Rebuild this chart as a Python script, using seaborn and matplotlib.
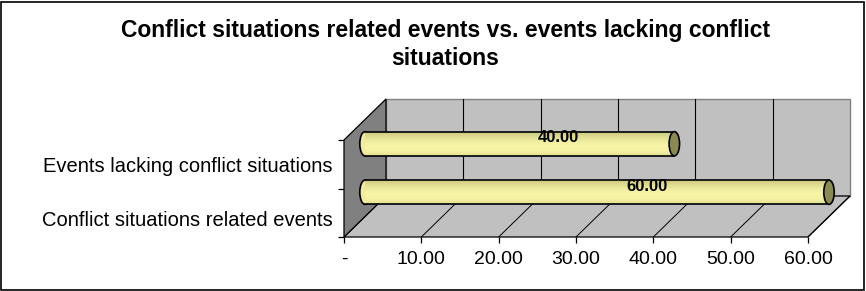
import numpy as np
import pandas as pd
import matplotlib
matplotlib.use("Agg")
import matplotlib.pyplot as plt
import seaborn as sns
from matplotlib.patches import Polygon, Rectangle, Ellipse
from matplotlib.transforms import ScaledTranslation
from matplotlib.colors import LinearSegmentedColormap

# 数据
categories = ["Events lacking conflict situations", "Conflict situations related events"]
values = [40.0, 60.0]
x_ticks = [0, 10, 20, 30, 40, 50, 60]
x_labels = ["-", "10.00", "20.00", "30.00", "40.00", "50.00", "60.00"]
title = "Conflict situations related events vs. events lacking conflict\nsituations"

sns.set_style("white")
plt.rcParams["font.family"] = ["Liberation Sans", "DejaVu Sans"]
plt.rcParams["text.color"] = "black"
plt.rcParams["xtick.color"] = "black"
plt.rcParams["ytick.color"] = "black"
plt.rcParams["axes.labelcolor"] = "black"

df = pd.DataFrame({"cat": categories, "val": values})

fig = plt.figure(figsize=(8.66, 2.91), dpi=100)
ax = fig.add_axes([344 / 866, 54 / 291, 464 / 866, 97 / 291])
ax.patch.set_visible(False)

sns.barplot(data=df, x="val", y="cat", orient="h", ax=ax, color="#EEEC9E",
            width=0.5, edgecolor="none", zorder=3)
ax.set_xlim(0, 60)
ax.set_ylim(1.5, -0.5)
bars = list(ax.patches)

# 3D 外框：深度偏移
dxf, dyf = 42 / 464, 41 / 97
kw = dict(transform=ax.transAxes, clip_on=False)
ax.add_patch(Rectangle((dxf, dyf), 1, 1, facecolor="#C0C0C0", edgecolor="#808080", lw=1, zorder=0.5, **kw))
ax.add_patch(Polygon([(0, 0), (1, 0), (1 + dxf, dyf), (dxf, dyf)], closed=True,
                     facecolor="#C0C0C0", edgecolor="black", lw=0.9, zorder=0.6, **kw))
ax.add_patch(Polygon([(0, 0), (0, 1), (dxf, 1 + dyf), (dxf, dyf)], closed=True,
                     facecolor="#808080", edgecolor="black", lw=0.9, zorder=0.7, **kw))
for v in x_ticks[1:]:
    f = v / 60
    ax.plot([f, f + dxf], [0, dyf], color="black", lw=0.7, zorder=0.8, **kw)
    if v < 60:
        ax.plot([f + dxf, f + dxf], [dyf, 1 + dyf], color="black", lw=0.8, zorder=0.8, **kw)

# 圆柱
trans_mid = ax.transData + ScaledTranslation(21 / 100, 20.5 / 100, fig.dpi_scale_trans)
trans_lab = ax.transData + ScaledTranslation(21 / 100, 26.5 / 100, fig.dpi_scale_trans)
cmap = LinearSegmentedColormap.from_list("cyl", ["#C8C67E", "#DCDA8E", "#EEEC9E", "#F8F6A6", "#F4F2A2", "#E2E096"])
grad = np.linspace(0, 1, 64).reshape(-1, 1)
for p in bars:
    p.set_transform(trans_mid)
    x0, y0, w, h = p.get_x(), p.get_y(), p.get_width(), p.get_height()
    cap_w = 1.35
    ax.add_patch(Ellipse((x0, y0 + h / 2), cap_w, h, transform=trans_mid,
                         facecolor="#EEEC9E", edgecolor="black", lw=1.2, zorder=2.5, clip_on=False))
    im = ax.imshow(grad, extent=(x0, x0 + w, y0 + h, y0), aspect="auto", cmap=cmap,
                   transform=trans_mid, zorder=3.2)
    im.set_clip_path(p)
    ax.plot([x0, x0 + w], [y0, y0], color="black", lw=1.2, transform=trans_mid, zorder=3.5, clip_on=False)
    ax.plot([x0, x0 + w], [y0 + h, y0 + h], color="black", lw=1.2, transform=trans_mid, zorder=3.5, clip_on=False)
    ax.add_patch(Ellipse((x0 + w, y0 + h / 2), cap_w, h, transform=trans_mid,
                         facecolor="#8A8A52", edgecolor="black", lw=1.2, zorder=3.6, clip_on=False))
    ax.text(x0 + w * 0.575 + 2, y0 + h / 2, f"{w:.2f}", transform=trans_lab,
            ha="center", va="center", fontsize=12, fontweight="bold", color="black", zorder=4)

ax.set_xlim(0, 60)
ax.set_ylim(1.5, -0.5)

# 坐标轴
for s in ax.spines.values():
    s.set_visible(False)
ax.set_xticks(x_ticks)
ax.set_xticklabels(x_labels, fontsize=14)
ax.tick_params(axis="x", direction="out", length=4, width=0.9, color="black", labelcolor="black", pad=6, bottom=True)
ax.set_yticks([0, 1])
ax.set_yticklabels(categories, fontsize=14.5)
ax.set_yticks([-0.5, 0.5, 1.5], minor=True)
ax.tick_params(axis="y", which="major", length=0, pad=8, left=True, labelcolor="black")
ax.tick_params(axis="y", which="minor", direction="out", length=4, width=0.9, color="black", left=True)
lab = ax.get_yticklabels()[1]
lab.set_transform(lab.get_transform() + ScaledTranslation(0, -6 / 100, fig.dpi_scale_trans))
ax.set_xlabel("")
ax.set_ylabel("")
ax.grid(False)

fig.text(0.514, 1 - 44.5 / 291, title, ha="center", va="center", fontsize=16.5,
         fontweight="bold", color="black", linespacing=1.3)
fig.patches.append(Rectangle((0.0015, 0.004), 0.996, 0.99, transform=fig.transFigure,
                             fill=False, edgecolor="black", lw=1.2))

fig.savefig("out.png", dpi=100)
